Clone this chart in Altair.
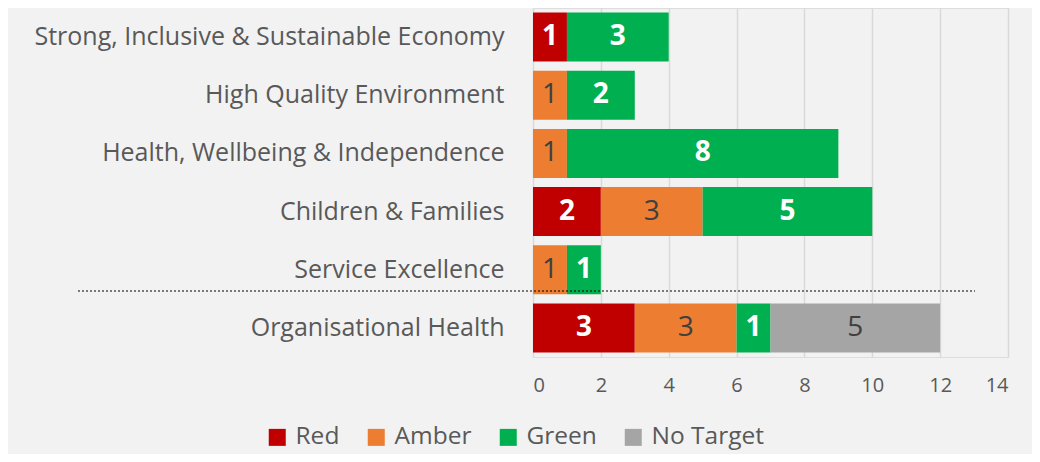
import altair as alt
import pandas as pd

categories = [
    "Strong, Inclusive & Sustainable Economy",
    "High Quality Environment\u00a0",
    "Health, Wellbeing & Independence",
    "Children & Families",
    "Service Excellence",
    "Organisational Health",
]
statuses = ["Red", "Amber", "Green", "No Target"]
colors = ["#C00000", "#ED7D31", "#00B050", "#A5A5A5"]

red_vals = [1, 0, 0, 2, 0, 3]
amber_vals = [0, 1, 1, 3, 1, 3]
green_vals = [3, 2, 8, 5, 1, 1]
notarget_vals = [0, 0, 0, 0, 0, 5]
x_ticks = [0, 2, 4, 6, 8, 10, 12, 14]

rows = []
for i, c in enumerate(categories):
    for s, vals in zip(statuses, [red_vals, amber_vals, green_vals, notarget_vals]):
        if vals[i] > 0:
            rows.append({"category": c, "status": s, "value": vals[i],
                         "order": statuses.index(s),
                         "light": s in ("Red", "Green")})
df = pd.DataFrame(rows)

FONT = "Open Sans"

base = alt.Chart(df).transform_stack(
    stack="value", groupby=["category"], as_=["x0", "x1"],
    sort=[alt.SortField("order", order="ascending")]
).transform_calculate(mid="(datum.x0 + datum.x1) / 2")

y_enc = alt.Y("category:N", sort=categories, title=None,
              scale=alt.Scale(paddingInner=0.157, paddingOuter=0.0785),
              axis=alt.Axis(domain=False, ticks=False, grid=False,
                            labelFontSize=25, labelColor="#595959",
                            labelFont=FONT, labelPadding=29, labelLimit=600))

bars = base.mark_bar(stroke=None).encode(
    x=alt.X("x0:Q", title=None,
            scale=alt.Scale(domain=[0, 14], nice=False),
            axis=alt.Axis(values=x_ticks, domain=False, ticks=False,
                          grid=True, gridColor="#d9d9d9", gridWidth=1.5,
                          labelFontSize=20, labelColor="#595959",
                          labelFont=FONT, labelPadding=18)),
    x2="x1:Q",
    y=y_enc,
    color=alt.Color("status:N", scale=alt.Scale(domain=statuses, range=colors),
                    legend=alt.Legend(title=None, orient="none", direction="horizontal",
                                      legendX=-268, legendY=417,
                                      symbolType="square", symbolSize=289,
                                      symbolStrokeWidth=0,
                                      labelFontSize=24.5, labelColor="#595959",
                                      labelFont=FONT, columnPadding=24,
                                      labelOffset=6)),
)

labels_light = base.transform_filter("datum.light").mark_text(
    color="white", fontWeight="bold", fontSize=28, font=FONT, baseline="middle"
).encode(x="mid:Q", y=alt.Y("category:N", sort=categories), text="value:Q")

labels_dark = base.transform_filter("!datum.light").mark_text(
    color="#404040", fontSize=28, font=FONT, baseline="middle"
).encode(x="mid:Q", y=alt.Y("category:N", sort=categories), text="value:Q")

divider = alt.Chart(pd.DataFrame({"d": [0]})).mark_rule(
    color="#000000", strokeDash=[2, 2], strokeWidth=1
).encode(x=alt.value(-455), x2=alt.value(442), y=alt.value(283))

chart = alt.layer(bars, labels_light, labels_dark, divider).properties(
    width=475, height=349,
    autosize=alt.AutoSizeParams(type="none"),
    padding={"left": 525, "top": 0, "right": 24, "bottom": 97},
    background="#F2F2F2",
).configure_view(stroke=None).configure(font=FONT)

chart.save("out.html", embed_options={"renderer": "svg", "actions": False})
